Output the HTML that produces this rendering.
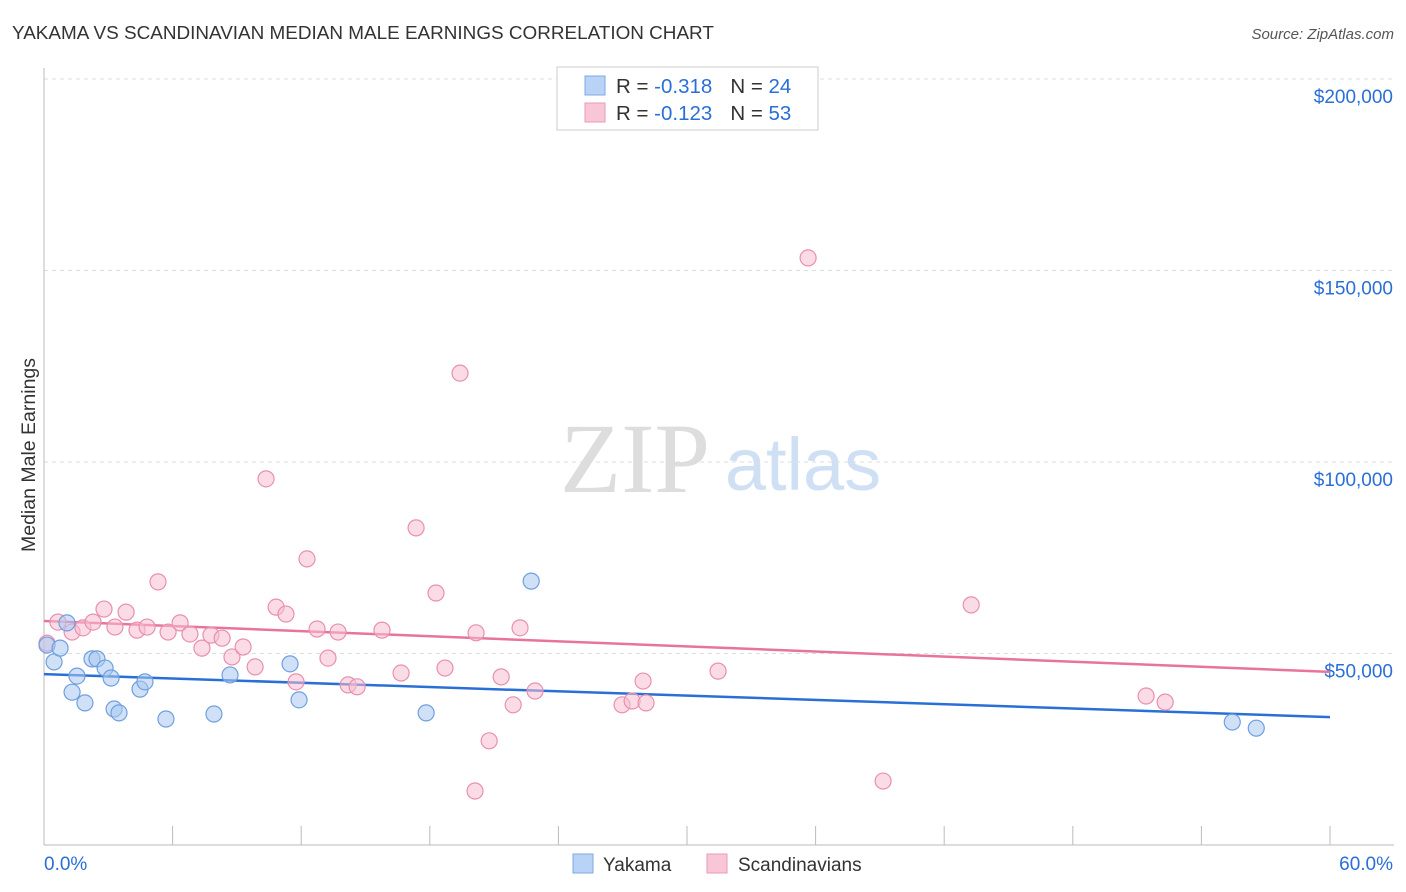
<!DOCTYPE html>
<html><head><meta charset="utf-8"><style>
body{margin:0;background:#fff;font-family:"Liberation Sans",sans-serif;}
#c{position:absolute;left:0;top:0;}
</style></head><body>
<svg id="c" width="1406" height="892">
<text x="12" y="39" font-size="18.9" fill="#333">YAKAMA VS SCANDINAVIAN MEDIAN MALE EARNINGS CORRELATION CHART</text>
<text x="1394" y="39" font-size="15" fill="#555" font-style="italic" text-anchor="end">Source: ZipAtlas.com</text>
<text x="35" y="455" font-size="19.5" fill="#333" text-anchor="middle" transform="rotate(-90 35 455)">Median Male Earnings</text>
<g>
<text x="635" y="492" font-size="100" fill="#ddd" font-family="Liberation Serif" text-anchor="middle">ZIP</text>
<text x="803" y="490" font-size="74" fill="#cfe0f5" text-anchor="middle">atlas</text>
</g>
<g id="grid"></g><g id="axes"></g><g id="trend"></g><g id="pts"></g>
<g>
<rect x="557" y="67" width="261" height="63" fill="#fff" stroke="#ccc"/>
<rect x="585" y="76" width="20" height="19" fill="#b8d3f5" stroke="#7ea8e3"/>
<rect x="585" y="103" width="20" height="19" fill="#f8c6d6" stroke="#eb9ab5"/>
<text x="616" y="93" font-size="20.5" fill="#333">R = <tspan fill="#2a6fd6">-0.318</tspan><tspan dx="18">N = </tspan><tspan fill="#2a6fd6">24</tspan></text>
<text x="616" y="120" font-size="20.5" fill="#333">R = <tspan fill="#2a6fd6">-0.123</tspan><tspan dx="18">N = </tspan><tspan fill="#2a6fd6">53</tspan></text>
</g>
<g>
<rect x="573" y="854" width="20" height="19" fill="#b8d3f5" stroke="#7ea8e3"/>
<text x="603" y="871" font-size="19" fill="#333">Yakama</text>
<rect x="707" y="854" width="20" height="19" fill="#f8c6d6" stroke="#eb9ab5"/>
<text x="738" y="871" font-size="19" fill="#333">Scandinavians</text>
</g>
</svg>
<script>
const yTicks=[50000,100000,150000,200000];
const yTickLabels=["$50,000","$100,000","$150,000","$200,000"];
const xTickLabels=["0.0%","60.0%"];
const yakamaX=[0.14,0.47,0.75,1.07,1.54,1.31,1.91,2.24,2.47,2.85,3.13,3.27,3.50,4.48,4.71,5.69,7.93,8.68,11.48,11.90,17.83,22.73,55.44,56.56];
const yakamaY=[52200,47800,51400,58000,44100,39900,37100,48600,48600,46200,43600,35500,34500,40700,42600,32900,34200,44400,47300,37900,34500,68900,32100,30500];
const scandX=[0.14,0.65,1.31,1.82,2.29,2.80,3.31,3.83,4.34,4.81,5.32,5.79,6.35,6.81,7.37,7.79,8.31,8.77,9.29,9.85,10.36,10.83,11.29,11.76,12.27,12.74,13.25,13.72,14.19,14.61,15.77,16.66,17.36,18.29,18.71,19.41,20.11,20.16,20.77,21.33,21.89,22.21,22.91,26.97,27.44,27.95,28.09,31.45,35.65,39.15,43.26,51.42,52.31];
const scandY=[52700,58200,55600,56700,58200,61600,56900,60800,56100,56900,68700,55600,58000,55100,51400,54800,54000,49100,51700,46500,95600,62100,60300,42600,74700,56400,48800,55600,41800,41300,56100,44900,82800,65800,46200,123200,14100,55400,27200,43900,36600,56700,40200,36600,37600,42800,37100,45400,153300,16700,62700,38900,37300];
const yakamaTrend=[44600,33400];
const scandTrend=[58500,45200];
const trendX=[0,60];
const NS="http://www.w3.org/2000/svg";
const X=v=>44+v*(1286/60), Y=v=>845-v*(191.5/50000);
function mk(t,a,p){const e=document.createElementNS(NS,t);for(const k in a)e.setAttribute(k,a[k]);p.appendChild(e);return e;}
const g=document.getElementById('grid'),ax=document.getElementById('axes'),tr=document.getElementById('trend'),pts=document.getElementById('pts');
yTicks.forEach((v,i)=>{
 const l=mk('line',{x1:44,x2:1394,y1:Y(v),y2:Y(v),stroke:'#ddd','stroke-dasharray':'4,4'},g);
 
 
 const t=mk('text',{x:1393,y:Y(v)+24,'font-size':19,fill:'#2a6fd6','text-anchor':'end'},ax);t.textContent=yTickLabels[i];
 
 
});
const a1=mk('line',{x1:44,x2:44,y1:68,y2:845,stroke:'#bbb'},ax);


const a2=mk('line',{x1:44,x2:1394,y1:845,y2:845,stroke:'#bbb'},ax);


for(let p=0;p<=60;p+=6){const t=mk('line',{x1:X(p),x2:X(p),y1:826,y2:845,stroke:'#bbb'},ax);
 
 }
const xl1=mk('text',{x:44,y:870,'font-size':19,fill:'#2a6fd6'},ax);xl1.textContent=xTickLabels[0];


const xl2=mk('text',{x:1393,y:870,'font-size':19,fill:'#2a6fd6','text-anchor':'end'},ax);xl2.textContent=xTickLabels[1];


function dots(xs,ys,fill,stroke,name){xs.forEach((x,i)=>{const c=mk('circle',{cx:X(x),cy:Y(ys[i]),r:8,fill:fill,'fill-opacity':0.55,stroke:stroke,'stroke-width':1.2},pts);
 
 });}
dots(scandX,scandY,'#f8c0d2','#e890ae','scandinavian-point');
dots(yakamaX,yakamaY,'#a9c8f0','#6f9fe0','yakama-point');
const t1=mk('line',{x1:X(trendX[0]),x2:X(trendX[1]),y1:Y(scandTrend[0]),y2:Y(scandTrend[1]),stroke:'#e8749a','stroke-width':2.5},tr);


const t2=mk('line',{x1:X(trendX[0]),x2:X(trendX[1]),y1:Y(yakamaTrend[0]),y2:Y(yakamaTrend[1]),stroke:'#2a6fd6','stroke-width':2.5},tr);


</script>
</body></html>
